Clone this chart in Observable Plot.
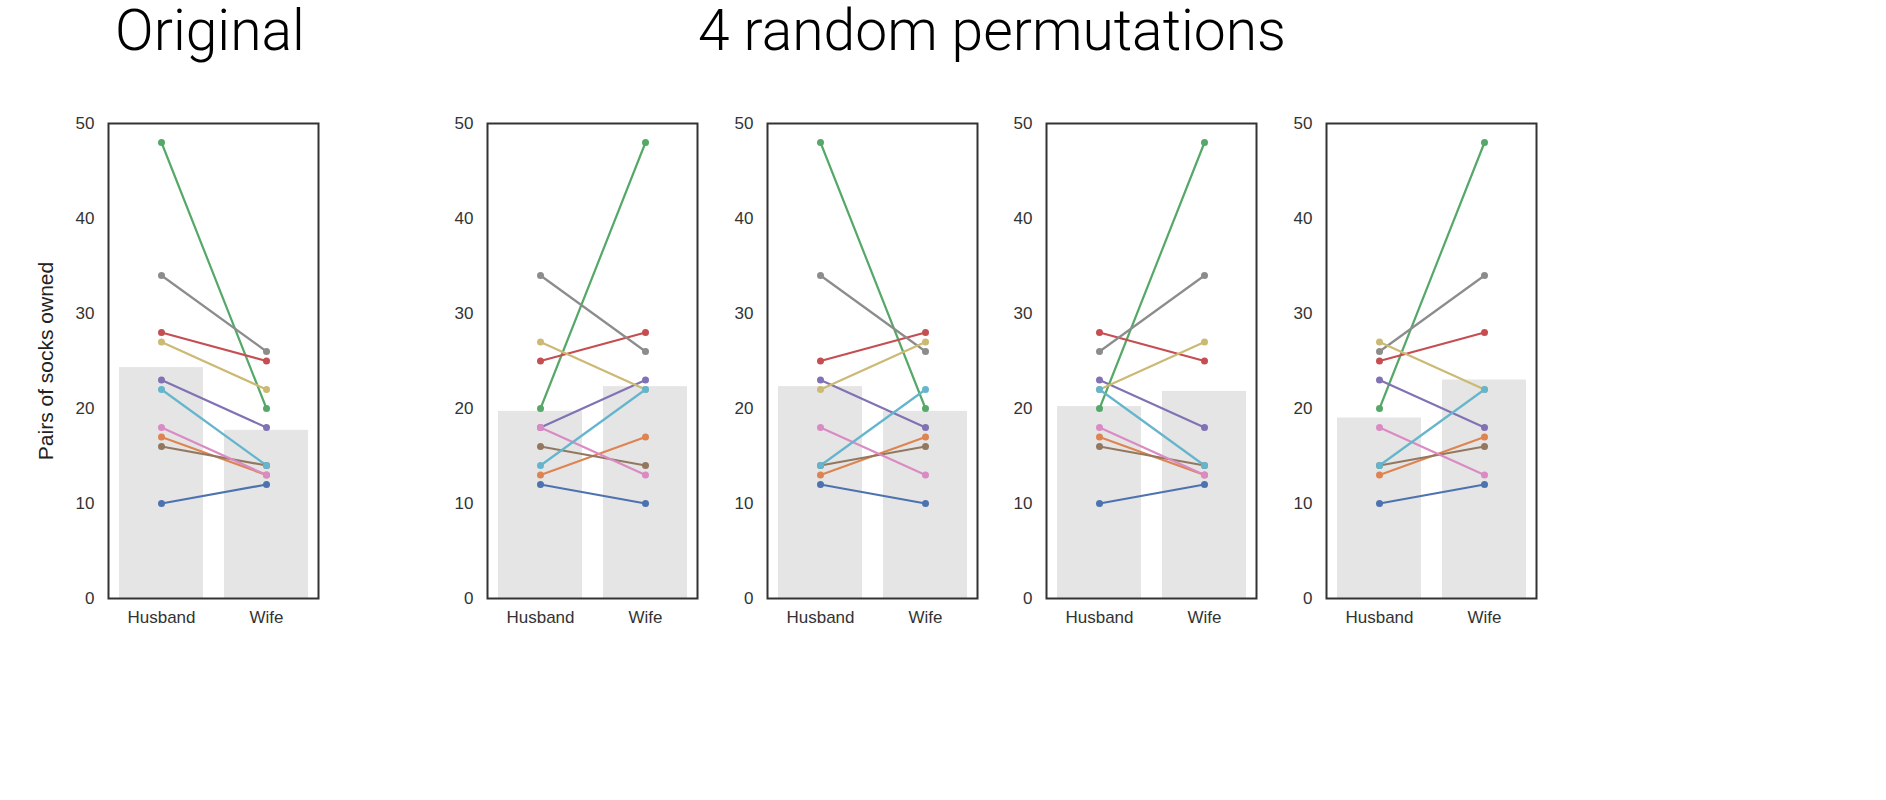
<!DOCTYPE html>
<html>
<head>
<meta charset="utf-8">
<script src="https://cdn.jsdelivr.net/npm/d3@7"></script>
<script src="https://cdn.jsdelivr.net/npm/@observablehq/plot@0.6"></script>
<style>
  body { margin: 0; background: #fff; font-family: "Liberation Sans", Arial, sans-serif; }
  #wrap { position: relative; width: 1886px; height: 800px; }
  .title { position: absolute; font-family: Roboto, sans-serif; font-weight: 300; font-size: 57px; color: #000; transform: translateX(-50%); top: -3px; white-space: nowrap; }
  .panel { position: absolute; top: 113px; background: transparent !important; }
</style>
</head>
<body>
<div id="wrap">
  <div class="title" style="left:210px">Original</div>
  <div class="title" style="left:992px">4 random permutations</div>
</div>
<script>
const categories = ["Husband", "Wife"];
const colors = ["#4C72B0", "#DD8452", "#55A868", "#C44E52", "#8172B3", "#937860", "#DA8BC3", "#8C8C8C", "#CCB974", "#64B5CD"];

const originalHusband = [10, 17, 48, 28, 23, 16, 18, 34, 27, 22];
const originalWife    = [12, 13, 20, 25, 18, 14, 13, 26, 22, 14];
const perm1Husband = [12, 13, 20, 25, 18, 16, 18, 34, 27, 14];
const perm1Wife    = [10, 17, 48, 28, 23, 14, 13, 26, 22, 22];
const perm2Husband = [12, 13, 48, 25, 23, 14, 18, 34, 22, 14];
const perm2Wife    = [10, 17, 20, 28, 18, 16, 13, 26, 27, 22];
const perm3Husband = [10, 17, 20, 28, 23, 16, 18, 26, 22, 22];
const perm3Wife    = [12, 13, 48, 25, 18, 14, 13, 34, 27, 14];
const perm4Husband = [10, 13, 20, 25, 23, 14, 18, 26, 27, 14];
const perm4Wife    = [12, 17, 48, 28, 18, 16, 13, 34, 22, 22];

const panels = [
  {h: originalHusband, w: originalWife, left: 8, label: true},
  {h: perm1Husband, w: perm1Wife, left: 387},
  {h: perm2Husband, w: perm2Wife, left: 667},
  {h: perm3Husband, w: perm3Wife, left: 946},
  {h: perm4Husband, w: perm4Wife, left: 1226}
];

const wrap = document.getElementById("wrap");
panels.forEach(p => {
  const pts = [];
  p.h.forEach((v, i) => {
    pts.push({couple: i, who: "Husband", socks: v});
    pts.push({couple: i, who: "Wife", socks: p.w[i]});
  });
  const means = [{who: "Husband", socks: d3.mean(p.h)}, {who: "Wife", socks: d3.mean(p.w)}];
  const chart = Plot.plot({
    width: 100 + 210 + 10,
    height: 10 + 475 + 40,
    marginLeft: 100, marginRight: 10, marginTop: 10, marginBottom: 40,
    style: {fontFamily: "'Liberation Sans', Arial, sans-serif", fontSize: "17px", color: "#333", background: "transparent"},
    x: {domain: categories, paddingInner: 0.2, paddingOuter: 0.1, tickSize: 0, tickPadding: 12, label: null},
    y: {domain: [0, 50], ticks: [0, 10, 20, 30, 40, 50], tickSize: 0, tickPadding: 14,
        label: p.label ? "Pairs of socks owned" : null, labelAnchor: "center", labelArrow: "none", labelOffset: 70},
    color: {domain: d3.range(10), range: colors},
    marks: [
      Plot.barY(means, {x: "who", y: "socks", fill: "#e5e5e5"}),
      Plot.line(pts, {x: "who", y: "socks", z: "couple", stroke: "couple", strokeWidth: 2.2}),
      Plot.dot(pts, {x: "who", y: "socks", fill: "couple", r: 3.5}),
      Plot.frame({stroke: "#333", strokeWidth: 2})
    ]
  });
  chart.classList.add("panel");
  chart.style.left = p.left + "px";
  wrap.appendChild(chart);
});
d3.selectAll("svg [aria-label='y-axis label'] text").style("font-size", "21px").style("fill", "#222");
</script>
</body>
</html>
